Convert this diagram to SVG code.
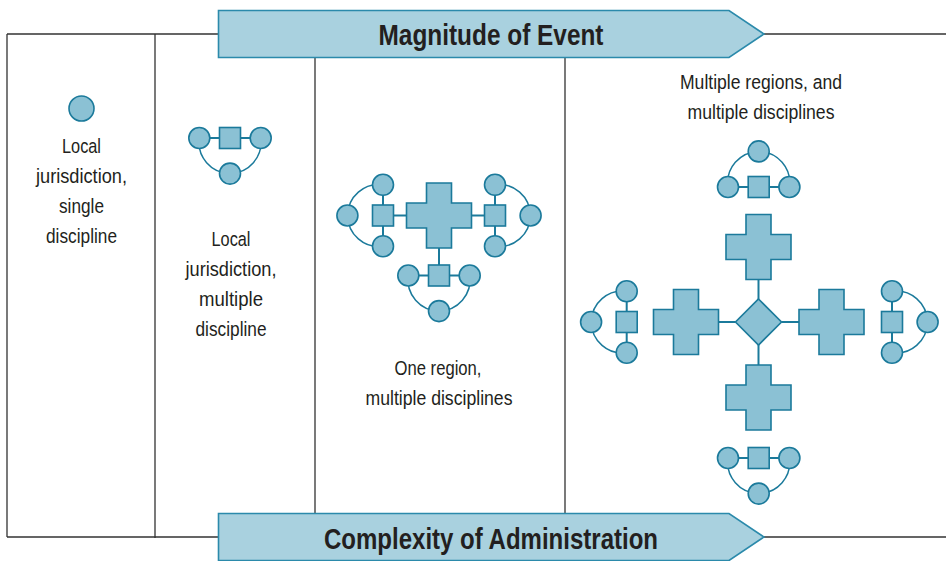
<svg xmlns="http://www.w3.org/2000/svg" xmlns:xlink="http://www.w3.org/1999/xlink" width="946" height="561" viewBox="0 0 946 561">
<style>
.frame{fill:none;stroke:#333333;stroke-width:1.3}
.arrow{fill:#a9d1df;stroke:#2b8aab;stroke-width:1.6}
.shape{fill:#8bc1d4;stroke:#1b7a9b;stroke-width:1.6}
.link{fill:none;stroke:#1b7a9b;stroke-width:2}
.arc{fill:none;stroke:#1b7a9b;stroke-width:1.5}
.title{font-family:"Liberation Sans Narrow","Liberation Sans",Arial,sans-serif;font-weight:bold;font-size:29px;fill:#231f20;text-anchor:middle}
.lbl{font-family:"Liberation Sans Narrow","Liberation Sans",Arial,sans-serif;font-size:20.5px;fill:#231f20;text-anchor:middle}
</style>
<defs>
<g id="team">
<path class="arc" d="M-30.7 0 A31 31 0 1 0 30.7 0"/>
<line class="link" x1="-30.7" y1="0" x2="30.7" y2="0"/>
<circle class="shape" cx="-30.7" cy="0" r="10.5"/>
<circle class="shape" cx="30.7" cy="0" r="10.5"/>
<circle class="shape" cx="0" cy="35.6" r="10.5"/>
<rect class="shape" x="-10.5" y="-10.5" width="21" height="21"/>
</g>
<path id="cross" class="shape" d="M-12.5 -32.5 H12.5 V-12.5 H32.5 V12.5 H12.5 V32.5 H-12.5 V12.5 H-32.5 V-12.5 H-12.5 Z"/>
</defs>

<g id="frame">
<path class="frame" d="M7 34 H220 M762 34 H946 M7 537 H946 M7 34 V537 M155 34 V538 M315 58 V514 M565 58 V514"/>
</g>

<g id="arrow-magnitude">
<path class="arrow" d="M218.5 10.5 H729 L764 34 L729 57.5 H218.5 Z"/>
<text class="title" x="491" y="45" textLength="225" lengthAdjust="spacingAndGlyphs">Magnitude of Event</text>
</g>
<g id="arrow-complexity">
<path class="arrow" d="M218.5 513.5 H729 L764 537 L729 560.5 H218.5 Z"/>
<text class="title" x="491" y="548.5" textLength="334" lengthAdjust="spacingAndGlyphs">Complexity of Administration</text>
</g>

<g id="connectors">
<line class="link" x1="393.5" y1="215.5" x2="406.5" y2="215.5"/>
<line class="link" x1="471.5" y1="215.5" x2="484.5" y2="215.5"/>
<line class="link" x1="439" y1="247.5" x2="439" y2="265"/>
<line class="link" x1="758.5" y1="279.5" x2="758.5" y2="299"/>
<line class="link" x1="758.5" y1="345" x2="758.5" y2="365"/>
<line class="link" x1="718.5" y1="322" x2="735.5" y2="322"/>
<line class="link" x1="781.5" y1="322" x2="799" y2="322"/>
</g>

<g id="col1">
<g id="node-single"><circle class="shape" cx="81.5" cy="108.5" r="12.5"/></g>
<text class="lbl" x="81.5" y="153" textLength="39" lengthAdjust="spacingAndGlyphs">Local</text>
<text class="lbl" x="81.5" y="183" textLength="91" lengthAdjust="spacingAndGlyphs">jurisdiction,</text>
<text class="lbl" x="81.5" y="213" textLength="45" lengthAdjust="spacingAndGlyphs">single</text>
<text class="lbl" x="81.5" y="243" textLength="71" lengthAdjust="spacingAndGlyphs">discipline</text>
</g>

<g id="col2">
<g id="team-col2"><use xlink:href="#team" href="#team" transform="translate(230 138)"/></g>
<text class="lbl" x="231" y="246" textLength="39" lengthAdjust="spacingAndGlyphs">Local</text>
<text class="lbl" x="231" y="276" textLength="91" lengthAdjust="spacingAndGlyphs">jurisdiction,</text>
<text class="lbl" x="231" y="306" textLength="64" lengthAdjust="spacingAndGlyphs">multiple</text>
<text class="lbl" x="231" y="336" textLength="71" lengthAdjust="spacingAndGlyphs">discipline</text>
</g>

<g id="col3">
<g id="cross-col3"><use xlink:href="#cross" href="#cross" transform="translate(439 215.5)"/></g>
<g id="team-col3-left"><use xlink:href="#team" href="#team" transform="translate(383 215.5) rotate(90)"/></g>
<g id="team-col3-right"><use xlink:href="#team" href="#team" transform="translate(495 215.5) rotate(-90)"/></g>
<g id="team-col3-bottom"><use xlink:href="#team" href="#team" transform="translate(439 275.5)"/></g>
<text class="lbl" x="438" y="375" textLength="87" lengthAdjust="spacingAndGlyphs">One region,</text>
<text class="lbl" x="439" y="405" textLength="147" lengthAdjust="spacingAndGlyphs">multiple disciplines</text>
</g>

<g id="col4">
<text class="lbl" x="761" y="89" textLength="162" lengthAdjust="spacingAndGlyphs">Multiple regions, and</text>
<text class="lbl" x="761" y="119" textLength="147" lengthAdjust="spacingAndGlyphs">multiple disciplines</text>
<g id="team-col4-top"><use xlink:href="#team" href="#team" transform="translate(758.7 187) rotate(180)"/></g>
<g id="cross-col4-top"><use xlink:href="#cross" href="#cross" transform="translate(758.5 247)"/></g>
<g id="cross-col4-left"><use xlink:href="#cross" href="#cross" transform="translate(686 322)"/></g>
<g id="cross-col4-right"><use xlink:href="#cross" href="#cross" transform="translate(831.5 322)"/></g>
<g id="cross-col4-bottom"><use xlink:href="#cross" href="#cross" transform="translate(758.5 397.5)"/></g>
<g id="diamond-col4"><path class="shape" d="M758.5 299 L781.5 322 L758.5 345 L735.5 322 Z"/></g>
<g id="team-col4-left"><use xlink:href="#team" href="#team" transform="translate(626.7 322) rotate(90)"/></g>
<g id="team-col4-right"><use xlink:href="#team" href="#team" transform="translate(892 322) rotate(-90)"/></g>
<g id="team-col4-bottom"><use xlink:href="#team" href="#team" transform="translate(758.7 458)"/></g>
</g>
</svg>
